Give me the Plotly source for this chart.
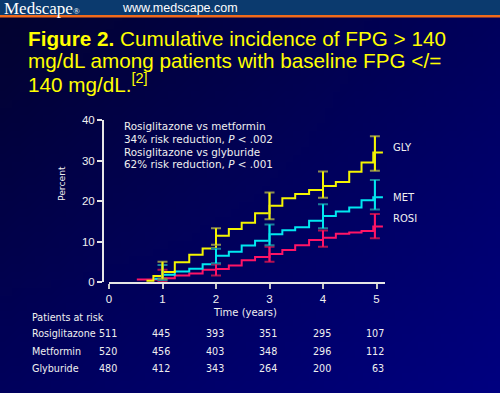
import base64, struct, zlib
import plotly.graph_objects as go

# ---------------- data ----------------
gly_x = [0.70, 0.83, 1.00, 1.23, 1.50, 1.75, 2.00, 2.24, 2.48, 2.73, 3.00, 3.24, 3.48, 3.74, 4.00, 4.24, 4.49, 4.72, 4.94, 5.12]
gly_y = [0.3, 1.5, 2.5, 4.9, 6.7, 8.3, 11.4, 13.1, 14.6, 17.0, 18.8, 20.7, 21.7, 22.7, 23.7, 24.7, 27.2, 29.5, 32.0, 32.0]

met_x = [0.85, 1.00, 1.23, 1.50, 1.75, 2.00, 2.24, 2.48, 2.73, 3.00, 3.24, 3.48, 3.74, 4.00, 4.24, 4.49, 4.72, 4.94, 5.12]
met_y = [0.8, 1.8, 2.6, 3.3, 4.4, 6.5, 7.5, 9.0, 10.2, 11.8, 12.8, 13.5, 15.1, 16.3, 17.4, 18.4, 20.2, 20.9, 20.9]

rosi_x = [0.52, 1.00, 1.23, 1.50, 1.75, 2.00, 2.24, 2.48, 2.73, 3.00, 3.24, 3.48, 3.74, 4.00, 4.24, 4.49, 4.72, 4.94, 5.12]
rosi_y = [0.6, 0.9, 1.6, 2.1, 3.0, 3.2, 4.1, 5.4, 6.2, 6.9, 7.9, 9.1, 10.4, 10.9, 11.9, 12.2, 12.6, 13.7, 13.7]

ci_x = [1.0, 2.0, 3.0, 4.0, 4.97]
gly_lo = [0.8, 9.2, 15.5, 20.8, 27.5]
gly_hi = [5.0, 13.3, 22.1, 27.3, 36.0]
met_lo = [0.5, 4.6, 9.1, 13.3, 17.9]
met_hi = [4.2, 8.2, 14.2, 19.2, 25.2]
rosi_lo = [0.2, 1.6, 5.0, 8.7, 10.8]
rosi_hi = [3.0, 4.4, 8.7, 12.7, 16.8]

risk_times = [0, 1, 2, 3, 4, 5]
risk_rosi = [511, 445, 393, 351, 295, 107]
risk_met = [520, 456, 403, 348, 296, 112]
risk_gly = [480, 412, 343, 264, 200, 63]

x_ticks = [0, 1, 2, 3, 4, 5]
y_ticks = [0, 10, 20, 30, 40]

# ---------------- geometry helpers ----------------
W, H = 500, 393
ML, MR, MT, MB = 103, 115, 120, 111
PW, PH = W - ML - MR, H - MT - MB
X0PIX, XUNIT = 109, 53.5


def px(x):
    return (x - ML) / PW


def py(y):
    return (H - MB - y) / PH


# ---------------- background gradient png ----------------
def make_png(w, h, colfn):
    rows = b""
    for j in range(h):
        row = bytearray([0])
        for i in range(w):
            row += bytes(colfn(i / (w - 1), j / (h - 1)))
        rows += bytes(row)

    def chunk(t, d):
        c = struct.pack(">I", len(d)) + t + d
        return c + struct.pack(">I", zlib.crc32(t + d) & 0xFFFFFFFF)

    data = b"\x89PNG\r\n\x1a\n"
    data += chunk(b"IHDR", struct.pack(">IIBBBBB", w, h, 8, 2, 0, 0, 0))
    data += chunk(b"IDAT", zlib.compress(rows))
    data += chunk(b"IEND", b"")
    return "data:image/png;base64," + base64.b64encode(data).decode()


TL, TR, BL, BR = (2, 2, 48), (0, 0, 92), (0, 0, 92), (0, 0, 128)


def grad(u, v):
    return [int(round(TL[k] * (1 - u) * (1 - v) + TR[k] * u * (1 - v) + BL[k] * (1 - u) * v + BR[k] * u * v)) for k in range(3)]


bg_uri = make_png(64, 48, grad)

# ---------------- figure ----------------
fig = go.Figure()

YEL, CYA, PNK = "#f5f500", "#00e8f0", "#ff1466"
YEL_C, CYA_C, PNK_C = "#8c8c50", "#1a7f9a", "#b01050"

for xs, ys, col in [(rosi_x, rosi_y, PNK), (met_x, met_y, CYA), (gly_x, gly_y, YEL)]:
    fig.add_trace(go.Scatter(x=xs, y=ys, mode="lines", line=dict(color=col, width=2, shape="hv"),
                             hoverinfo="skip", showlegend=False))

for lo, hi, col, ccol in [(rosi_lo, rosi_hi, PNK, PNK_C), (met_lo, met_hi, CYA, CYA_C), (gly_lo, gly_hi, YEL, YEL_C)]:
    mid = [(a + b) / 2 for a, b in zip(lo, hi)]
    up = [b - m for b, m in zip(hi, mid)]
    dn = [m - a for a, m in zip(lo, mid)]
    fig.add_trace(go.Scatter(x=ci_x, y=mid, mode="markers", marker=dict(size=1, opacity=0),
                             error_y=dict(type="data", symmetric=False, array=up, arrayminus=dn,
                                          color=ccol, thickness=2, width=5),
                             hoverinfo="skip", showlegend=False))
    fig.add_trace(go.Scatter(x=ci_x, y=mid, mode="markers", marker=dict(size=1, opacity=0),
                             error_y=dict(type="data", symmetric=False, array=up, arrayminus=dn,
                                          color=col, thickness=2, width=0),
                             hoverinfo="skip", showlegend=False))

TXT = "#f0f0f0"
AX = "#e6e6e6"

fig.update_layout(
    width=W, height=H,
    margin=dict(l=ML, r=MR, t=MT, b=MB, pad=0),
    paper_bgcolor="#000050",
    plot_bgcolor="rgba(0,0,0,0)",
    xaxis=dict(domain=[px(X0PIX), 1], range=[0, (385 - X0PIX) / XUNIT], tickvals=x_ticks,
               showline=True, linecolor=AX, linewidth=2, ticks="outside", ticklen=5,
               tickwidth=2, tickcolor="#c8c8c8", showgrid=False, zeroline=False,
               tickfont=dict(family="Liberation Sans", size=11.5, color=TXT)),
    yaxis=dict(anchor="free", position=0, range=[0, 40], tickvals=y_ticks,
               showline=True, linecolor=AX, linewidth=2, ticks="outside", ticklen=5,
               tickwidth=2, tickcolor=AX, showgrid=False, zeroline=False,
               tickfont=dict(family="Liberation Sans", size=11.5, color=TXT)),
    images=[dict(source=bg_uri, xref="paper", yref="paper", x=px(0), y=py(17),
                 sizex=W / PW, sizey=(H - 17) / PH, sizing="stretch",
                 xanchor="left", yanchor="top", layer="below")],
    shapes=[
        dict(type="rect", xref="paper", yref="paper", x0=px(0), x1=px(W), y0=py(15), y1=py(0),
             fillcolor="#0b3a6e", line=dict(width=0), layer="below"),
        dict(type="rect", xref="paper", yref="paper", x0=px(0), x1=px(W), y0=py(17.5), y1=py(15),
             fillcolor="#f26a1a", line=dict(width=0), layer="below"),
    ],
)

ann = []


def add(text, x, y, size, family="DejaVu Sans", color=TXT, xanchor="left", yanchor="middle", **kw):
    ann.append(dict(text=text, x=x, y=y, xref="paper", yref="paper", showarrow=False,
                    xanchor=xanchor, yanchor=yanchor,
                    font=dict(family=family, size=size, color=color), **kw))


# header
add("Medscape<span style='font-size:9px'>®</span>", px(2), py(8), 17, family="Liberation Serif", color="white")
add("www.medscape.com", px(120), py(8), 12.5, family="Liberation Sans", color="white")

# title
TY = "#ffff00"
add("<b>Figure 2.</b> Cumulative incidence of FPG &gt; 140", px(26), py(38), 20.7, family="Liberation Sans", color=TY)
add("mg/dL among patients with baseline FPG &lt;/=", px(26), py(61), 20.7, family="Liberation Sans", color=TY)
add("140 mg/dL.<sup>[2]</sup>", px(26), py(83), 20.7, family="Liberation Sans", color=TY)

# in-plot notes
NS = 10.4
add("Rosiglitazone vs metformin", px(122), py(126), NS)
add("34% risk reduction, <i>P</i> &lt; .002", px(122), py(139), NS)
add("Rosiglitazone vs glyburide", px(122), py(152), NS)
add("62% risk reduction, <i>P</i> &lt; .001", px(122), py(164), NS)

# series labels
add("GLY", px(391), py(147), 10)
add("MET", px(391), py(197), 10)
add("ROSI", px(391), py(218), 10)

# axis titles
add("Percent", px(61), py(184), 9.2, xanchor="center", textangle=-90)
add("Time (years)", px(245), py(312), 10, xanchor="center")

# risk table
add("Patients at risk", px(30), py(317), 9.6)
for name, vals, yy in [("Rosiglitazone", risk_rosi, 333), ("Metformin", risk_met, 351), ("Glyburide", risk_gly, 368)]:
    add(name, px(30), py(yy), 9.6)
    for t, v in zip(risk_times, vals):
        add(str(v), px(X0PIX + t * XUNIT + 9.5), py(yy), 9.6, xanchor="right")

fig.update_layout(annotations=ann)
fig.write_html("out.html", config={"displayModeBar": False},
               post_script="document.body.style.margin='0px';document.body.style.overflow='hidden';")
